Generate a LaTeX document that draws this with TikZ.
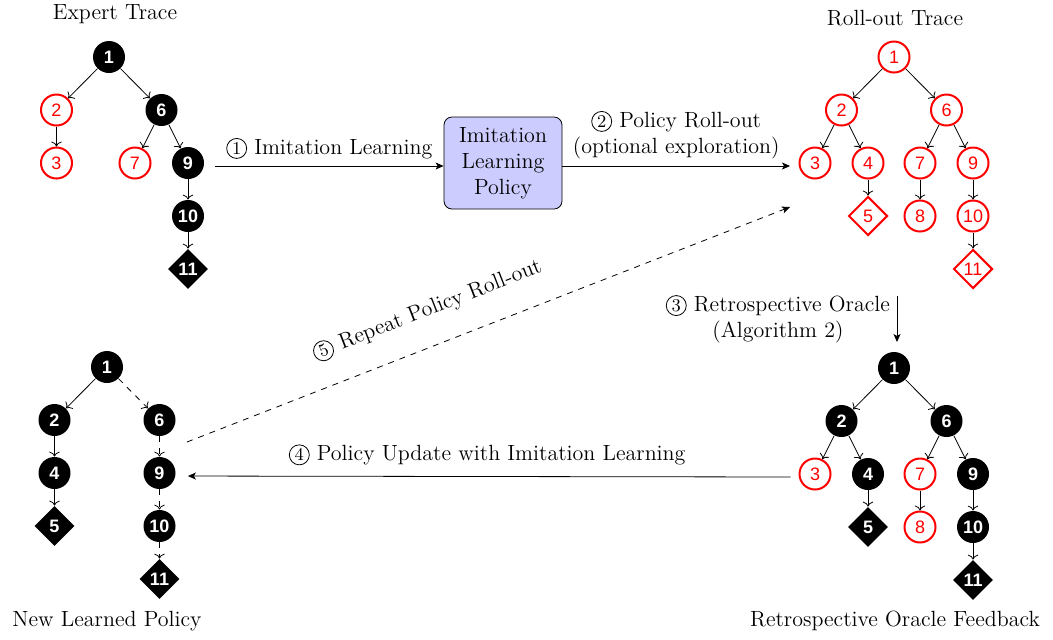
\documentclass[tikz,border=0pt]{standalone}
\usepackage{fontspec}
\newfontfamily\nodefont{Liberation Sans}
\usetikzlibrary{shapes.geometric,arrows.meta}

% circled step number in front of each label
\newcommand{\stepno}[1]{\tikz[baseline=(sn.base)] \node[circle, draw, solid, thin, inner sep=0.7pt,
        minimum size=10pt, font=\fontsize{9}{10}\selectfont] (sn) {#1};}

\tikzset{
    kept/.style={circle, fill=black, text=white, inner sep=0pt, minimum size=16pt,
        font=\nodefont\bfseries\fontsize{9}{10}\selectfont},
    dropped/.style={circle, draw=red, line width=1pt, fill=white, text=red, inner sep=0pt,
        minimum size=15.5pt, font=\nodefont\fontsize{9}{10}\selectfont},
    keptend/.style={diamond, fill=black, text=white, inner sep=0pt, minimum size=20pt,
        font=\nodefont\bfseries\fontsize{9}{10}\selectfont},
    droppedend/.style={diamond, draw=red, line width=1pt, fill=white, text=red, inner sep=0pt,
        minimum size=19.5pt, font=\nodefont\fontsize{9}{10}\selectfont},
    title/.style={font=\fontsize{11}{13}\selectfont},
    steplabel/.style={font=\fontsize{11}{13}\selectfont, align=center},
    policy/.style={draw, rounded corners=4pt, fill=blue!20, align=center, inner sep=2pt,
        minimum width=59pt, minimum height=46pt, font=\fontsize{11}{13}\selectfont},
    flow/.style={-{Stealth[length=4pt, width=3.5pt, inset=1pt]}},
}

\begin{document}
\begin{tikzpicture}[
        x=0.5pt, y=-0.5pt,
        level distance=26.5pt,
        level 1/.style={sibling distance=52.5pt},
        level 2/.style={sibling distance=26.5pt},
        edge from parent/.style={draw, ->},
    ]
    \useasboundingbox (0,0) rectangle (1053,639);

    % expert trace
    \node[title] (ettl) at (115,14) {Expert Trace};
    \node[kept] (e1) at (109,57) {1}
    child {node[dropped] (e2) {2}
            child {node[dropped] (e3) {3}}}
    child {node[kept] (e6) {6}
            child {node[dropped] (e7) {7}}
            child {node[kept] (e9) {9}
                    child {node[kept] (e10) {10}
                            child {node[keptend] (e11) {11}}}}};

    % roll-out trace
    \node[title] (rttl) at (895,18) {Roll-out Trace};
    \node[dropped] (r1) at (894,57) {1}
    child {node[dropped] (r2) {2}
            child {node[dropped] (r3) {3}}
            child {node[dropped] (r4) {4}
                    child {node[droppedend] (r5) {5}}}}
    child {node[dropped] (r6) {6}
            child {node[dropped] (r7) {7}
                    child {node[dropped] (r8) {8}}}
            child {node[dropped] (r9) {9}
                    child {node[dropped] (r10) {10}
                            child {node[droppedend] (r11) {11}}}}};

    % oracle feedback
    \node[title] (ottl) at (895,621) {Retrospective Oracle Feedback};
    \node[kept] (o1) at (894,368) {1}
    child {node[kept] (o2) {2}
            child {node[dropped] (o3) {3}}
            child {node[kept] (o4) {4}
                    child {node[keptend] (o5) {5}}}}
    child {node[kept] (o6) {6}
            child {node[dropped] (o7) {7}
                    child {node[dropped] (o8) {8}}}
            child {node[kept] (o9) {9}
                    child {node[kept] (o10) {10}
                            child {node[keptend] (o11) {11}}}}};

    % new learned policy
    \node[title] (nttl) at (107,621) {New Learned Policy};
    \node[kept] (n1) at (107,367) {1}
    child {node[kept] (n2) {2}
            child {node[kept] (n4) {4}
                    child {node[keptend] (n5) {5}}}}
    child {node[kept] (n6) {6}
            child {node[kept] (n9) {9}
                    child {node[kept] (n10) {10}
                            child {node[keptend] (n11) {11}}}}
            edge from parent[dashed]};

    % policy box and the loop around it
    \node[policy] (pol) at (503,163) {Imitation\\Learning\\Policy};

    \coordinate (ilstart) at (215,166);
    \coordinate (roend) at (790,166);
    \coordinate (orstart) at (897,296);
    \coordinate (orend) at (897,342);
    \coordinate (rpstart) at (187,442);
    \coordinate (rpend) at (790,207);

    \draw[flow] (ilstart) -- (ilstart -| pol.west)
        node[midway, above, steplabel] {\stepno{1} Imitation Learning};
    \draw[flow] (pol.east |- roend) -- (roend)
        node[midway, above, steplabel] {\stepno{2} Policy Roll-out\\(optional exploration)};
    \draw[flow] (orstart) -- (orend)
        node[midway, left, steplabel] {\stepno{3} Retrospective Oracle\\(Algorithm 2)};
    \draw[flow, shorten <=4pt, shorten >=6pt] ([yshift=-1.5pt]o3.west) -- ([yshift=-1.5pt]n9.east)
        node[midway, above=2pt, steplabel] {\stepno{4} Policy Update with Imitation Learning};
    \draw[flow, dashed] (rpstart) -- (rpend)
        node[pos=0.42, sloped, above=9pt, steplabel] {\stepno{5} Repeat Policy Roll-out};
\end{tikzpicture}
\end{document}
